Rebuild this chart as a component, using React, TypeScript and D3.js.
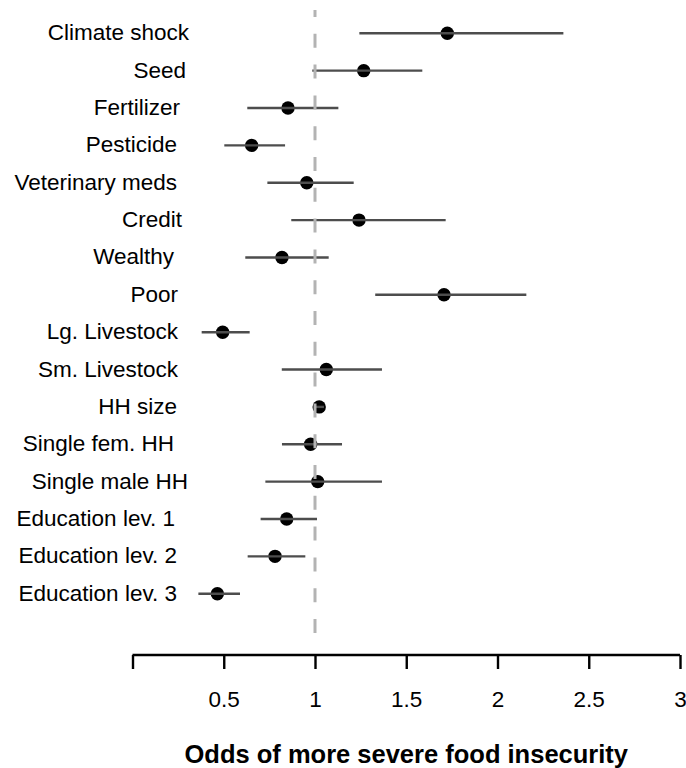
import { useEffect, useRef } from 'react';
import * as d3 from 'd3';

const labels = [
  'Climate shock',
  'Seed',
  'Fertilizer',
  'Pesticide',
  'Veterinary meds',
  'Credit',
  'Wealthy',
  'Poor',
  'Lg. Livestock',
  'Sm. Livestock',
  'HH size',
  'Single fem. HH',
  'Single male HH',
  'Education lev. 1',
  'Education lev. 2',
  'Education lev. 3',
];
const odds = [1.725, 1.267, 0.852, 0.653, 0.955, 1.241, 0.819, 1.707, 0.494, 1.062, 1.023, 0.976, 1.015, 0.845, 0.781, 0.465];
const lower = [1.243, 0.985, 0.629, 0.503, 0.739, 0.87, 0.618, 1.33, 0.379, 0.818, 0.996, 0.819, 0.728, 0.702, 0.631, 0.361];
const upper = [2.361, 1.588, 1.128, 0.836, 1.212, 1.716, 1.075, 2.158, 0.642, 1.367, 1.049, 1.148, 1.367, 1.011, 0.947, 0.589];
const tickValues = [0, 0.5, 1, 1.5, 2, 2.5, 3];

// the labels in the original aren't perfectly right-aligned
const labelNudge = [12, 9, 3, 0, 0, 5, -3, 1, 1, 1, 0, -3, 11, -2, 0, 0];

const W = 686;
const H = 768;

export default function App() {
  const rootRef = useRef<SVGSVGElement | null>(null);

  useEffect(() => {
    document.body.style.margin = '0';
    const svg = d3.select(rootRef.current);
    svg.selectAll('*').remove();

    const font = '"Liberation Sans", Arial, Helvetica, sans-serif';
    const x = d3.scaleLinear().domain([0, 3]).range([132.5, 680]);
    const y = d3.scalePoint<string>().domain(labels).range([33.3, 593.7]);

    const rows = labels.map((label, i) => ({ label, odds: odds[i], lo: lower[i], hi: upper[i], nudge: labelNudge[i] }));

    // points first, whiskers over them
    svg.append('g')
      .selectAll('circle')
      .data(rows)
      .join('circle')
      .attr('cx', d => x(d.odds))
      .attr('cy', d => y(d.label)!)
      .attr('r', 6.7)
      .attr('fill', '#000');

    svg.append('g')
      .selectAll('line')
      .data(rows)
      .join('line')
      .attr('x1', d => x(d.lo))
      .attr('x2', d => x(d.hi))
      .attr('y1', d => y(d.label)!)
      .attr('y2', d => y(d.label)!)
      .attr('stroke', '#4d4d4d')
      .attr('stroke-width', 2.4);

    svg.append('line')
      .attr('x1', x(1))
      .attr('x2', x(1))
      .attr('y1', 633)
      .attr('y2', 10)
      .attr('stroke', '#b3b3b3')
      .attr('stroke-width', 3)
      .attr('stroke-dasharray', '14 16.8');

    svg.append('g')
      .selectAll('text')
      .data(rows)
      .join('text')
      .attr('x', d => 177 + d.nudge)
      .attr('y', d => y(d.label)! + 7)
      .attr('text-anchor', 'end')
      .attr('font-family', font)
      .attr('font-size', 22.5)
      .attr('fill', '#000')
      .text(d => d.label);

    const axis = svg.append('g')
      .attr('transform', 'translate(0,655)')
      .call(
        d3.axisBottom(x)
          .tickValues(tickValues)
          .tickSize(14)
          .tickPadding(21.7)
          .tickFormat(d => (+d === 0 ? '' : String(d)))
      );
    axis.select('.domain').attr('stroke', '#000').attr('stroke-width', 2.4).attr('d', `M${x(0)},0H${x(3)}`);
    axis.selectAll('.tick line').attr('stroke', '#000').attr('stroke-width', 2.4);
    axis.selectAll('.tick text')
      .attr('font-family', font)
      .attr('font-size', 22.5)
      .attr('fill', '#000');

    svg.append('text')
      .attr('x', (x(0) + x(3)) / 2)
      .attr('y', 763)
      .attr('text-anchor', 'middle')
      .attr('font-family', font)
      .attr('font-size', 25.5)
      .attr('font-weight', 'bold')
      .attr('fill', '#000')
      .text('Odds of more severe food insecurity');
  }, []);

  return <svg ref={rootRef} width={W} height={H} style={{ display: 'block', background: '#fff' }} />;
}
